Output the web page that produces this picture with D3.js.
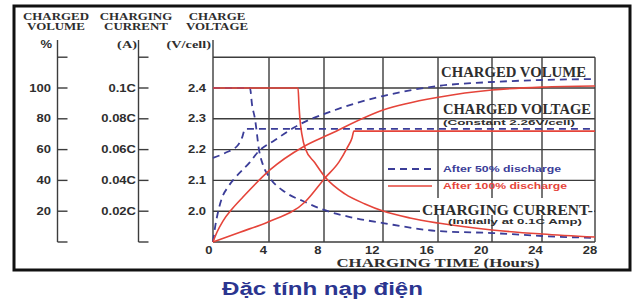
<!DOCTYPE html>
<html>
<head>
<meta charset="utf-8">
<script src="https://cdn.jsdelivr.net/npm/d3@7"></script>
<style>
  body { margin: 0; background: #fff; }
  svg { display: block; }
</style>
</head>
<body>
<svg id="chart"></svg>
<script>
// ---- data ----
const hourTicks = [0, 4, 8, 12, 16, 20, 24, 28];
const volumeTicks = [20, 40, 60, 80, 100];
const currentTicks = [0.02, 0.04, 0.06, 0.08, 0.1];
const currentLabels = ['0.02C', '0.04C', '0.06C', '0.08C', '0.1C'];
const voltageTicks = [2.0, 2.1, 2.2, 2.3, 2.4];

// after 100% discharge (red) : [hours, value]
const vol100 = [[0,0],[0.29,6.5],[0.71,13.6],[1.36,21.4],[2.14,29.2],[4.07,46.8],[6.47,61.7],[8.41,70.1],[12,85.7],[16.15,94.2],[20,98.7],[24,100.6],[28,101.3]];
const volt100 = [[0,1.9],[1.93,1.932],[3.93,1.965],[6.62,2.03],[8.07,2.108],[9.02,2.16],[9.56,2.205],[9.9,2.238],[10.03,2.26],[28,2.26]];
const cur100 = [[0,0.1],[6.11,0.1],[6.18,0.089],[6.25,0.0799],[6.4,0.0695],[6.62,0.061],[7.35,0.0513],[8.07,0.0422],[9.42,0.0312],[10.78,0.0247],[12,0.0201],[13.96,0.0156],[16,0.0123],[20,0.0078],[24,0.0052],[28,0.0032]];

// after 50% discharge (blue)
const vol50 = [[0,0],[0.14,9.1],[0.36,19.5],[0.64,28.6],[1.07,35.7],[1.57,41.6],[2.64,51.9],[3.21,58.4],[4.44,66.2],[5.89,74.7],[8.75,85.7],[12,94.8],[16,101.3],[20,103.9],[24,105.2],[28,105.8]];
const volt50 = [[0,2.173],[0.86,2.189],[1.79,2.215],[2.07,2.238],[2.29,2.267],[28,2.267]];
const cur50 = [[0,0.1],[2.64,0.1],[2.79,0.089],[3.0,0.0799],[3.29,0.0597],[3.57,0.05],[4.07,0.0416],[5.16,0.0325],[6.62,0.026],[8,0.0208],[9.76,0.0162],[12,0.0123],[16,0.0071],[20,0.0058],[24,0.0039],[28,0.0026]];

// ---- canvas ----
const width = 637, height = 302;
const svg = d3.select('#chart').attr('width', width).attr('height', height);

const blue = '#3b3d98', red = '#e5443a', grid = '#3c3c3c', ink = '#2e2e2e';
const sans = "'Liberation Sans', Arial, sans-serif";
const serif = "'Liberation Serif', 'Times New Roman', serif";

// grid is hand drawn, so the hour scale follows its uneven spacing
const xScale = d3.scaleLinear().domain(hourTicks).range([213, 269, 324, 383, 438, 492, 542, 595]);
const xLabel = d3.scaleLinear().domain([0, 28]).range([209, 590]);
const yVol = d3.scaleLinear().domain([0, 120]).range([242, 57.2]);
const yCur = d3.scaleLinear().domain([0, 0.12]).range([242, 57.2]);
const yVolt = d3.scaleLinear().domain([1.9, 2.5]).range([242, 57.2]);

let stretch = (sel, k) => {
  sel.each(function() {
    const w = this.getComputedTextLength();
    d3.select(this).attr('textLength', w * k).attr('lengthAdjust', 'spacingAndGlyphs');
  });
};
let fit = (sel, w) => sel.attr('textLength', w).attr('lengthAdjust', 'spacingAndGlyphs');

// frame
svg.append('rect')
  .attr('x', 14).attr('y', 6).attr('width', 616).attr('height', 264)
  .attr('fill', 'none').attr('stroke', '#111').attr('stroke-width', 3);

// grid
const g = svg.append('g').attr('stroke', grid).attr('stroke-width', 1.4);
g.selectAll('.vg').data(hourTicks).enter().append('line')
  .attr('x1', d => xScale(d)).attr('x2', d => xScale(d))
  .attr('y1', d => d === 0 ? 40 : yVol(120)).attr('y2', yVol(0));
g.selectAll('.hg').data([0, 20, 40, 60, 80, 100, 120]).enter().append('line')
  .attr('x1', xScale(0)).attr('x2', xScale(28))
  .attr('y1', d => yVol(d)).attr('y2', d => yVol(d));

// white box behind charging current caption
svg.append('rect').attr('x', 420).attr('y', 198).attr('width', 174).attr('height', 17).attr('fill', '#fff');

// left axes
[57.5, 138.5].forEach(ax => {
  const a = svg.append('g').attr('stroke', grid).attr('stroke-width', 1.4);
  a.append('line').attr('x1', ax).attr('x2', ax).attr('y1', 40).attr('y2', yVol(0));
  a.selectAll('line.t').data([0, 20, 40, 60, 80, 100, 120]).enter().append('line')
    .attr('x1', ax).attr('x2', ax + 10)
    .attr('y1', d => yVol(d)).attr('y2', d => yVol(d));
});

const lab = svg.append('g').attr('font-family', sans).attr('font-weight', 'bold')
  .attr('font-size', 10).attr('fill', ink);
lab.selectAll('.vl').data(volumeTicks).enter().append('text')
  .attr('x', 51).attr('y', d => yVol(d) + 3.5).attr('text-anchor', 'end').text(d => d);
lab.selectAll('.cl').data(currentTicks).enter().append('text')
  .attr('x', 136).attr('y', d => yCur(d) + 3.5).attr('text-anchor', 'end')
  .text((d, i) => currentLabels[i]);
lab.selectAll('.tl').data(voltageTicks).enter().append('text')
  .attr('x', 206).attr('y', d => yVolt(d) + 3.5).attr('text-anchor', 'end')
  .text(d => d.toFixed(1));
lab.selectAll('.hl').data(hourTicks).enter().append('text')
  .attr('x', d => xLabel(d)).attr('y', 254).attr('text-anchor', 'middle').text(d => d);
lab.append('text').attr('x', 52).attr('y', 48).attr('text-anchor', 'end').text('%');
lab.append('text').attr('x', 137).attr('y', 48).attr('text-anchor', 'end').attr('font-family', serif).attr('font-size', 11).text('(A)');
lab.append('text').attr('x', 211).attr('y', 48).attr('text-anchor', 'end').attr('font-family', serif).attr('font-size', 11).text('(V/cell)');
lab.selectAll('text').call(stretch, 1.3);

// column headers
const heads = [['CHARGED', 'VOLUME', 56], ['CHARGING', 'CURRENT', 136], ['CHARGE', 'VOLTAGE', 217]];
const hd = svg.append('g').attr('font-family', serif).attr('font-weight', 'bold')
  .attr('font-size', 10.5).attr('fill', ink).attr('text-anchor', 'middle');
heads.forEach(h => {
  hd.append('text').attr('x', h[2]).attr('y', 20).text(h[0]);
  hd.append('text').attr('x', h[2]).attr('y', 30).text(h[1]);
});
hd.selectAll('text').call(stretch, 1.23);

// curves
const line = d3.line().x(d => xScale(d[0])).curve(d3.curveMonotoneX);
const series = [
  {data: cur50, y: yCur, c: blue, dash: '7,5'},
  {data: volt50, y: yVolt, c: blue, dash: '7,5'},
  {data: vol50, y: yVol, c: blue, dash: '7,5'},
  {data: cur100, y: yCur, c: red, dash: null},
  {data: volt100, y: yVolt, c: red, dash: null},
  {data: vol100, y: yVol, c: red, dash: null}
];
svg.selectAll('path.curve').data(series).enter().append('path')
  .attr('class', 'curve')
  .attr('d', s => line.y(d => s.y(d[1]))(s.data))
  .attr('fill', 'none').attr('stroke', s => s.c)
  .attr('stroke-width', s => s.dash ? 1.8 : 1.6)
  .attr('stroke-dasharray', s => s.dash);

// legend
svg.append('line').attr('x1', 388).attr('x2', 432).attr('y1', 169).attr('y2', 169)
  .attr('stroke', blue).attr('stroke-width', 1.8).attr('stroke-dasharray', '7,5');
svg.append('line').attr('x1', 388).attr('x2', 432).attr('y1', 186).attr('y2', 186)
  .attr('stroke', red).attr('stroke-width', 1.6);
svg.append('text').attr('x', 443).attr('y', 172).attr('font-family', sans).attr('font-weight', 'bold')
  .attr('font-size', 9).attr('fill', blue).text('After 50% discharge').call(fit, 118);
svg.append('text').attr('x', 443).attr('y', 189).attr('font-family', sans).attr('font-weight', 'bold')
  .attr('font-size', 9).attr('fill', red).text('After 100% discharge').call(fit, 124);

// in-plot captions
let cap = (x, y, t, f, fs, w) => svg.append('text').attr('x', x).attr('y', y)
  .attr('font-family', f).attr('font-weight', 'bold').attr('font-size', fs)
  .attr('fill', ink).text(t).call(fit, w);
cap(441, 77, 'CHARGED VOLUME', serif, 14, 145);
cap(443, 114, 'CHARGED VOLTAGE', serif, 14, 148);
cap(443, 125, '(Constant 2.26V/cell)', sans, 7.5, 132);
cap(422, 215, 'CHARGING CURRENT-', serif, 14.5, 171);
cap(448, 224, '(Initially at 0.1C Amp)', sans, 7.5, 134);

// axis title
svg.append('text').attr('x', 438).attr('y', 267).attr('text-anchor', 'middle')
  .attr('font-family', serif).attr('font-weight', 'bold').attr('font-size', 12)
  .attr('fill', ink).text('CHARGING TIME (Hours)').call(fit, 203);

// caption under chart
svg.append('text').attr('x', 222).attr('y', 295)
  .attr('font-family', sans).attr('font-weight', 'bold').attr('font-size', 18)
  .attr('fill', '#2b3590').text('Đặc tính nạp điện').call(fit, 201);
</script>
</body>
</html>
